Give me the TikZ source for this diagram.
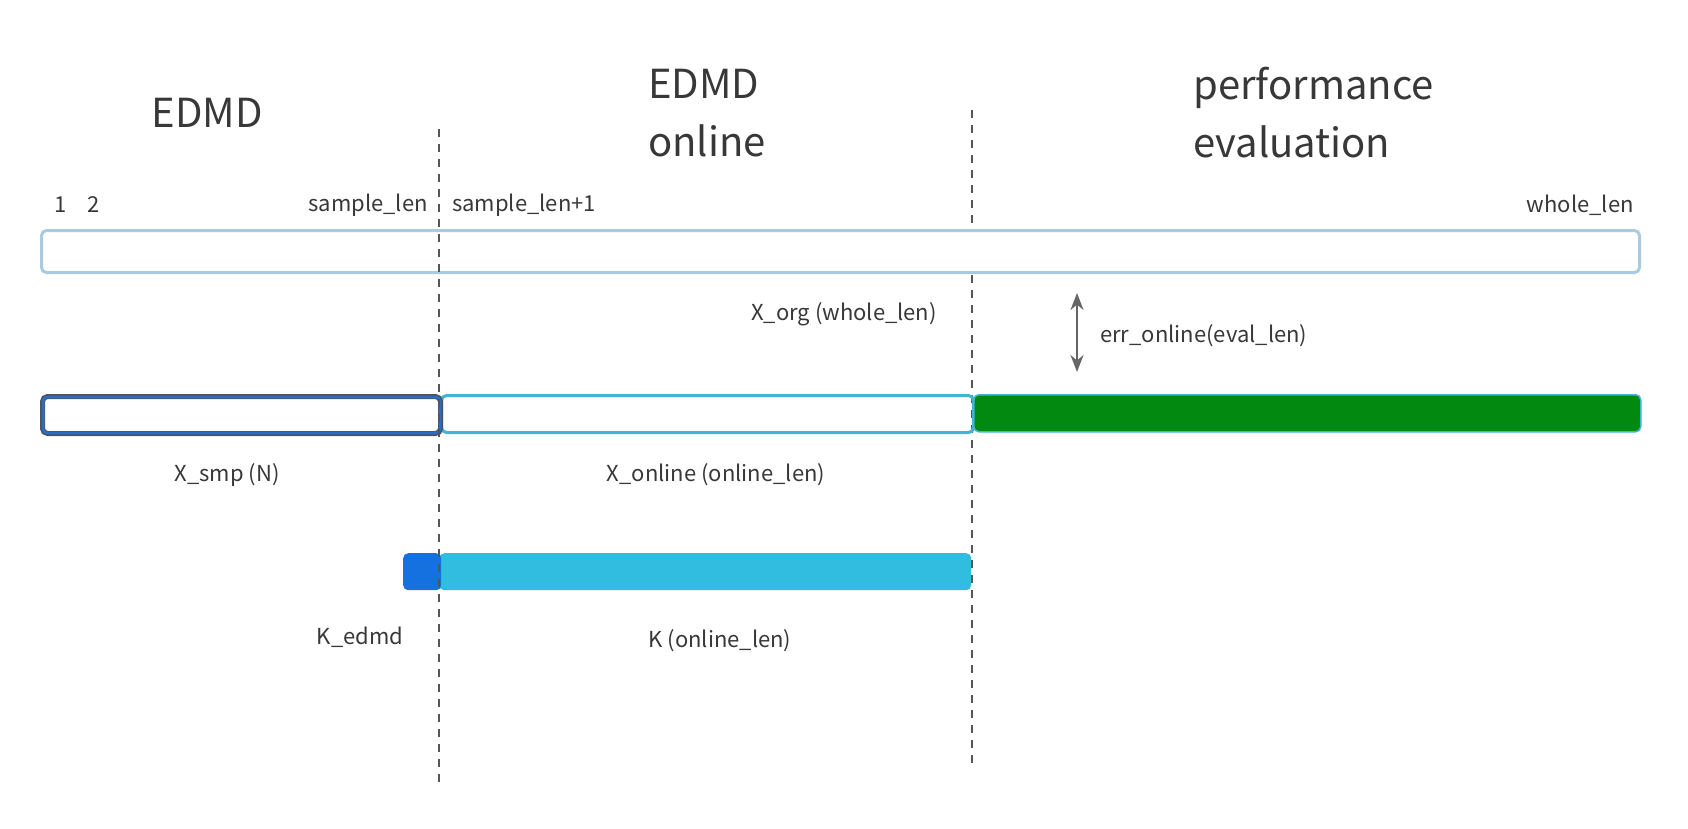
\documentclass[tikz,border=0pt]{standalone}
\usepackage{fontspec}
\setmainfont{Noto Sans CJK SC}
\usetikzlibrary{arrows.meta}
\definecolor{txt}{HTML}{383838}
\definecolor{orgline}{HTML}{A9CBE0}
\definecolor{smpout}{HTML}{4A5561}
\definecolor{smpin}{HTML}{2B6CC4}
\definecolor{onl}{HTML}{40B6D2}
\definecolor{evalgreen}{HTML}{02890F}
\definecolor{kedmd}{HTML}{1570E0}
\definecolor{kon}{HTML}{30BDDF}
\definecolor{dash}{HTML}{555555}
\definecolor{arr}{HTML}{666666}
\begin{document}
\begin{tikzpicture}[x=1pt,y=-1pt,
  title/.style={text=txt,font=\fontsize{40}{58}\selectfont,inner sep=0pt,align=left},
  lbl/.style={text=txt,font=\fontsize{22}{28}\selectfont,inner sep=0pt},
  bar/.style={rounded corners=5pt,anchor=north west,inner sep=0pt},
  divider/.style={draw=dash,line width=1.5pt,dash pattern=on 7.5pt off 7.5pt}
]
\useasboundingbox (0,0) rectangle (1688,828);
% titles
\node[title,anchor=center] (t1) at (207,113) {EDMD};
\node[title,anchor=west] (t2) at (648,113) {EDMD\\online};
\node[title,anchor=west] (t3) at (1193,113) {performance\\evaluation};
% dividers
\coordinate (d1a) at (439,129); \coordinate (d1b) at (439,788);
\coordinate (d2a) at (972,110); \coordinate (d2b) at (972,769);
\draw[divider] (d1a) -- (d1b);
\draw[divider] (d2a) -- (d2b);
% top labels
\node[lbl] (n1) at (61,205) {1};
\node[lbl] (n2) at (94,205) {2};
\node[lbl,anchor=east] (ns) at (428,205) {sample\_len};
\node[lbl,anchor=west] (ns1) at (452,205) {sample\_len+1};
\node[lbl,anchor=east] (nw) at (1634,205) {whole\_len};
% X_org bar
\node[bar,draw=orgline,line width=3pt,fill=white,minimum width=1598pt,minimum height=42pt] (xorg) at (40,229) {};
\node[lbl] (lxorg) at (844,314) {X\_org (whole\_len)};
% error arrow
\coordinate (ea) at (1077,293);
\coordinate (eb) at (1077,372);
\draw[arr,line width=2.5pt,{Stealth[length=17pt,width=13pt]}-{Stealth[length=17pt,width=13pt]}] (ea) -- (eb);
\node[lbl,anchor=west] (lerr) at (1100,336) {err\_online(eval\_len)};
% middle row
\node[bar,draw=onl,line width=3pt,minimum width=532pt,minimum height=37pt] (xon) at (440,394) {};
\node[bar,draw=onl,line width=1.5pt,fill=evalgreen,minimum width=667pt,minimum height=37pt] (xev) at (973,394) {};
\node[bar,draw=smpout,line width=5pt,fill=white,minimum width=398pt,minimum height=37pt] (xsmp) at (40,394) {};
\draw[smpin,line width=2.5pt,rounded corners=4pt] ([xshift=3pt,yshift=-3pt]xsmp.north west) rectangle ([xshift=-3pt,yshift=3pt]xsmp.south east);
\node[lbl] (lxsmp) at (227,475) {X\_smp (N)};
\node[lbl] (lxon) at (716,475) {X\_online (online\_len)};
% K row
\node[bar,fill=kon,minimum width=532pt,minimum height=37pt] (kk) at (439,553) {};
\node[bar,fill=kedmd,minimum width=38pt,minimum height=37pt] (ke) at (403,553) {};
\node[lbl] (lke) at (360,637) {K\_edmd};
\node[lbl] (lkk) at (720,641) {K (online\_len)};
% redraw divider over K bar
\draw[divider] (d1a) -- (d1b);
\end{tikzpicture}
\end{document}
